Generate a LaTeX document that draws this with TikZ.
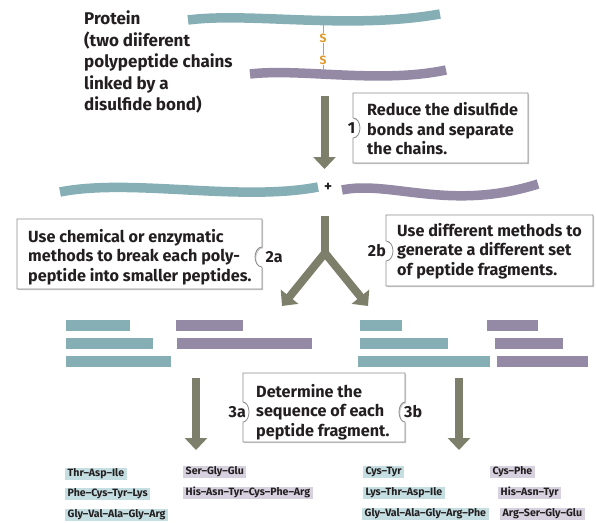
\documentclass[tikz,border=0pt]{standalone}
\usepackage{fontspec}
\setmainfont{Fira Sans}[BoldFont={Fira Sans Bold}]
\usetikzlibrary{arrows.meta,shadows}
\definecolor{chainteal}{HTML}{85AFB5}
\definecolor{chainpurple}{HTML}{948AA6}
\definecolor{lightteal}{HTML}{C4DEE2}
\definecolor{lightpurple}{HTML}{D7D1DF}
\definecolor{arrowgray}{HTML}{7E7F6A}
\definecolor{textdark}{HTML}{231F20}
\definecolor{ssorange}{HTML}{E09A2C}
\definecolor{boxborder}{HTML}{8C8C8C}
\begin{document}
\begin{tikzpicture}[x=1pt,y=-1pt,
  chain/.style={line width=9.5, line cap=butt},
  bigarrow/.style={draw=arrowgray, line width=8, -{Triangle[width=22pt,length=12pt]}},
  stepbox/.style={draw=boxborder, line width=0.8, fill=white,
     drop shadow={shadow xshift=1.2pt, shadow yshift=-1.2pt, fill=black!35, opacity=0.6}},
  boxtext/.style={anchor=west, align=left, text=textdark,
     font=\bfseries\fontsize{16.2}{19.5}\selectfont, inner sep=0},
  steplabel/.style={text=textdark, font=\bfseries\fontsize{16}{18}\selectfont, inner sep=0},
  pep/.style={anchor=west, inner xsep=2.5, inner ysep=0, text=textdark,
     font=\bfseries\fontsize{10.6}{11}\selectfont, text height=8.5, text depth=3},
  pepT/.style={pep, fill=lightteal},
  pepP/.style={pep, fill=lightpurple}]
\useasboundingbox (0,0) rectangle (596,522);

% --- protein label
\node[anchor=north west, align=left, text=textdark, inner sep=0,
  font=\bfseries\fontsize{17}{21.5}\selectfont] (protein) at (84,11)
  {Protein\\(two diiferent\\polypeptide chains\\linked by a\\disulfide bond)};

% --- linked chains
\draw[chain, chainteal] (188,20) .. controls (250,12) and (350,30) .. (440,14);
\draw[chain, chainpurple] (250,74) .. controls (300,68) and (380,84) .. (446,70);
\node[text=ssorange, font=\bfseries\fontsize{12}{12}\selectfont, inner sep=0.8] (s1) at (323,38) {S};
\node[text=ssorange, font=\bfseries\fontsize{12}{12}\selectfont, inner sep=0.8] (s2) at (323,60) {S};
\coordinate (bondtop) at (323,25);
\coordinate (bondbot) at (323,70);
\draw[ssorange, line width=1] (bondtop) -- (s1) (s1) -- (s2) (s2) -- (bondbot);

% --- step 1
\coordinate (a1s) at (324.5,96);
\coordinate (a1e) at (324.5,169);
\draw[bigarrow] (a1s) -- (a1e);
\draw[stepbox] (353,93) -- (528,93) -- (528,163) -- (353,163) -- (353,138)
  arc[start angle=90, end angle=-90, x radius=7, y radius=10] -- cycle;
\node[steplabel, anchor=east] (l1) at (355.5,128) {1};
\node[boxtext] (t1) at (367,129) {Reduce the disulfide\\bonds and separate\\the chains.};

% --- separated chains
\draw[chain, chainteal] (60,192) .. controls (130,178) and (240,202) .. (318,187);
\node[text=textdark, font=\bfseries\fontsize{15}{15}\selectfont, inner sep=0] (plus) at (328,187) {+};
\draw[chain, chainpurple] (342,190) .. controls (390,180) and (450,212) .. (538,184);

% --- step 2a / 2b boxes
\draw[stepbox] (17,219) -- (262,219) -- (262,247)
  arc[start angle=270, end angle=90, x radius=7, y radius=10] -- (262,289) -- (17,289) -- cycle;
\node[steplabel, anchor=west] (l2a) at (265.5,257) {2a};
\node[boxtext] (t2a) at (28,257) {Use chemical or enzymatic\\methods to break each poly-\\peptide into smaller peptides.};

\draw[stepbox] (386,215) -- (593,215) -- (593,286) -- (386,286) -- (386,261)
  arc[start angle=90, end angle=-90, x radius=7, y radius=10] -- cycle;
\node[steplabel, anchor=east] (l2b) at (386,251) {2b};
\node[boxtext] (t2b) at (397,251) {Use different methods to\\generate a different set\\of peptide fragments.};

% --- split arrow
\coordinate (ytop) at (325,216);
\coordinate (yjunc) at (325,253);
\coordinate (ylow) at (325,258);
\coordinate (yleft) at (282,306);
\coordinate (yright) at (368,306);
\draw[draw=arrowgray, line width=8] (ytop) -- (ylow);
\draw[draw=arrowgray, line width=8, line join=miter,
  {Triangle[width=22pt,length=12pt]}-{Triangle[width=22pt,length=12pt]}] (yleft) -- (yjunc) -- (yright);

% --- fragment bars
\fill[chainteal] (66,320) rectangle (130,331);
\fill[chainteal] (66,338) rectangle (153,349);
\fill[chainteal] (66,356) rectangle (171,367);
\fill[chainpurple] (176,320) rectangle (243,331);
\fill[chainpurple] (177,338) rectangle (312,349);
\fill[chainteal] (360,320) rectangle (402,331);
\fill[chainteal] (360,338) rectangle (448,349);
\fill[chainteal] (358,356) rectangle (490,367);
\fill[chainpurple] (487,320) rectangle (538,331);
\fill[chainpurple] (495,338) rectangle (563,349);
\fill[chainpurple] (497,356) rectangle (588,367);

% --- step 3
\coordinate (a3ls) at (196,378);
\coordinate (a3le) at (196,450);
\coordinate (a3rs) at (459,378);
\coordinate (a3re) at (459,450);
\draw[bigarrow] (a3ls) -- (a3le);
\draw[bigarrow] (a3rs) -- (a3re);
\draw[stepbox] (243,373) -- (405,373) -- (405,402)
  arc[start angle=270, end angle=90, x radius=6, y radius=10] -- (405,442) -- (243,442) -- (243,422)
  arc[start angle=90, end angle=-90, x radius=6, y radius=10] -- cycle;
\node[steplabel, anchor=east] (l3a) at (246,412) {3a};
\node[steplabel, anchor=west] (l3b) at (404,412) {3b};
\node[boxtext] (t3) at (256,412) {Determine the\\sequence of each\\peptide fragment.};

% --- peptide sequences
\node[pepT] (p1) at (65,474) {Thr–Asp–Ile};
\node[pepT] (p2) at (65,494) {Phe–Cys–Tyr–Lys};
\node[pepT] (p3) at (65,515) {Gly–Val–Ala–Gly–Arg};
\node[pepP] (p4) at (183,472) {Ser–Gly–Glu};
\node[pepP] (p5) at (183,493) {His–Asn–Tyr–Cys–Phe–Arg};
\node[pepT] (p6) at (363,472) {Cys–Tyr};
\node[pepT] (p7) at (363,493) {Lys–Thr–Asp–Ile};
\node[pepT] (p8) at (362,514) {Gly–Val–Ala–Gly–Arg–Phe};
\node[pepP] (p9) at (490,472) {Cys–Phe};
\node[pepP] (p10) at (498,493) {His–Asn–Tyr};
\node[pepP] (p11) at (500,514) {Arg–Ser–Gly–Glu};
\end{tikzpicture}
\end{document}
